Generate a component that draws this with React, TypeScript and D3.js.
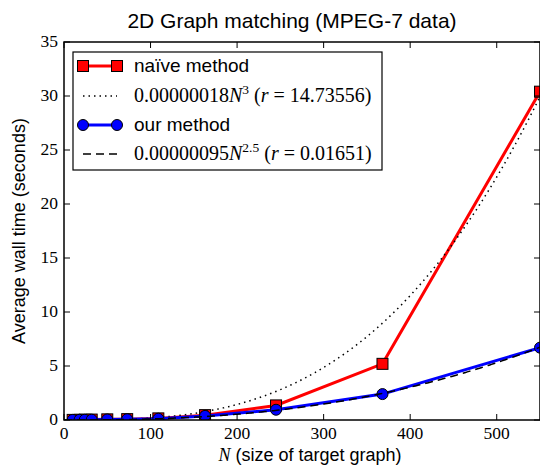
import React from "react";
import * as d3 from "d3";

const sizesN = [10, 18, 24, 32, 50, 73, 109, 163, 245, 368, 550];
const naiveTimes = [0.01, 0.02, 0.03, 0.04, 0.06, 0.08, 0.15, 0.45, 1.35, 5.2, 30.4];
const ourTimes = [0.01, 0.02, 0.02, 0.03, 0.05, 0.07, 0.12, 0.38, 0.95, 2.4, 6.7];
const naiveFit = { coef: 0.00000018, exp: 3 };
const ourFit = { coef: 0.00000095, exp: 2.5 };
const xTicks = [0, 100, 200, 300, 400, 500];
const yTicks = [0, 5, 10, 15, 20, 25, 30, 35];

const W = 540, H = 466;
const M = { left: 64, right: 0, top: 42, bottom: 46 };
const SERIF = "'Liberation Serif', 'DejaVu Serif', serif";
const SANS = "'Liberation Sans', Arial, sans-serif";

export default function App() {
  const x = d3.scaleLinear().domain([0, 550]).range([M.left, W - M.right]);
  const y = d3.scaleLinear().domain([0, 35]).range([H - M.bottom, M.top]);
  const line = d3.line<[number, number]>().x(d => x(d[0])).y(d => y(d[1]));
  const fitPts = (f: { coef: number; exp: number }) =>
    d3.range(0, 551, 2).map(n => [n, f.coef * Math.pow(n, f.exp)] as [number, number]);
  const naivePts = sizesN.map((n, i) => [n, naiveTimes[i]] as [number, number]);
  const ourPts = sizesN.map((n, i) => [n, ourTimes[i]] as [number, number]);
  const x0 = M.left, x1 = W - M.right, y0 = H - M.bottom, y1 = M.top;
  const tl = 6;
  const lx0 = 83, lx1 = 117, ltx = 134;
  const ly = [66, 96, 125, 154];
  return (
    <svg width={W} height={H} style={{ position: "absolute", left: 0, top: 0, background: "#fff" }}>
      <defs>
        <clipPath id="plotclip">
          <rect x={x0} y={y1} width={x1 - x0} height={y0 - y1} />
        </clipPath>
      </defs>
      <text x={(x0 + x1) / 2 - 10} y={28} textAnchor="middle" fontFamily={SANS} fontSize={21}>
        2D Graph matching (MPEG-7 data)
      </text>
      <g clipPath="url(#plotclip)">
        <path d={line(naivePts)!} fill="none" stroke="#ff0000" strokeWidth={3} />
        {naivePts.map((p, i) => (
          <rect key={"n" + i} x={x(p[0]) - 5.5} y={y(p[1]) - 5.5} width={11} height={11} fill="#ff0000" stroke="#000" strokeWidth={1} />
        ))}
        <path d={line(fitPts(naiveFit))!} fill="none" stroke="#000" strokeWidth={1.5} strokeDasharray="1.5 4" />
        <path d={line(ourPts)!} fill="none" stroke="#0000ff" strokeWidth={3} />
        {ourPts.map((p, i) => (
          <circle key={"o" + i} cx={x(p[0])} cy={y(p[1])} r={5.5} fill="#0000ff" stroke="#000" strokeWidth={1} />
        ))}
        <path d={line(fitPts(ourFit))!} fill="none" stroke="#000" strokeWidth={1.5} strokeDasharray="8 5" />
      </g>
      <rect x={x0} y={y1} width={x1 - x0} height={y0 - y1} fill="none" stroke="#000" strokeWidth={1.5} />
      {xTicks.map(t => (
        <g key={"xt" + t}>
          <line x1={x(t)} x2={x(t)} y1={y0} y2={y0 - tl} stroke="#000" strokeWidth={1} />
          <line x1={x(t)} x2={x(t)} y1={y1} y2={y1 + tl} stroke="#000" strokeWidth={1} />
          <text x={x(t)} y={y0 + 19} textAnchor="middle" fontFamily={SERIF} fontSize={17.5}>{t}</text>
        </g>
      ))}
      {yTicks.map(t => (
        <g key={"yt" + t}>
          <line x1={x0} x2={x0 + tl} y1={y(t)} y2={y(t)} stroke="#000" strokeWidth={1} />
          <line x1={x1} x2={x1 - tl} y1={y(t)} y2={y(t)} stroke="#000" strokeWidth={1} />
          <text x={x0 - 6} y={y(t) + 5} textAnchor="end" fontFamily={SERIF} fontSize={17.5}>{t}</text>
        </g>
      ))}
      <text x={(x0 + x1) / 2 + 8} y={461} textAnchor="middle" fontSize={18}>
        <tspan fontFamily={SERIF} fontStyle="italic">N</tspan>
        <tspan fontFamily={SANS}> (size of target graph)</tspan>
      </text>
      <text transform={`translate(25,${(y0 + y1) / 2}) rotate(-90)`} textAnchor="middle" fontFamily={SANS} fontSize={18}>
        Average wall time (seconds)
      </text>
      <rect x={73} y={52} width={309} height={118} fill="#fff" stroke="#000" strokeWidth={1.2} />
      <line x1={lx0} x2={lx1} y1={ly[0]} y2={ly[0]} stroke="#ff0000" strokeWidth={3} />
      <rect x={lx0 - 5.5} y={ly[0] - 5.5} width={11} height={11} fill="#ff0000" stroke="#000" />
      <rect x={lx1 - 5.5} y={ly[0] - 5.5} width={11} height={11} fill="#ff0000" stroke="#000" />
      <text x={ltx} y={ly[0] + 6} fontFamily={SANS} fontSize={19}>naïve method</text>
      <line x1={lx0} x2={lx1} y1={ly[1]} y2={ly[1]} stroke="#000" strokeWidth={1.5} strokeDasharray="1.5 4" />
      <text x={ltx} y={ly[1] + 6} fontFamily={SERIF} fontSize={20}>
        <tspan>0.00000018</tspan>
        <tspan fontStyle="italic">N</tspan>
        <tspan fontSize={13.5} dy={-8}>3</tspan>
        <tspan dy={8}> (</tspan>
        <tspan fontStyle="italic">r</tspan>
        <tspan> = 14.73556)</tspan>
      </text>
      <line x1={lx0} x2={lx1} y1={ly[2]} y2={ly[2]} stroke="#0000ff" strokeWidth={3} />
      <circle cx={lx0} cy={ly[2]} r={5.5} fill="#0000ff" stroke="#000" />
      <circle cx={lx1} cy={ly[2]} r={5.5} fill="#0000ff" stroke="#000" />
      <text x={ltx} y={ly[2] + 6} fontFamily={SANS} fontSize={19}>our method</text>
      <line x1={lx0} x2={lx1} y1={ly[3]} y2={ly[3]} stroke="#000" strokeWidth={1.5} strokeDasharray="8 5" />
      <text x={ltx} y={ly[3] + 6} fontFamily={SERIF} fontSize={20}>
        <tspan>0.00000095</tspan>
        <tspan fontStyle="italic">N</tspan>
        <tspan fontSize={13.5} dy={-8}>2.5</tspan>
        <tspan dy={8}> (</tspan>
        <tspan fontStyle="italic">r</tspan>
        <tspan> = 0.01651)</tspan>
      </text>
    </svg>
  );
}
